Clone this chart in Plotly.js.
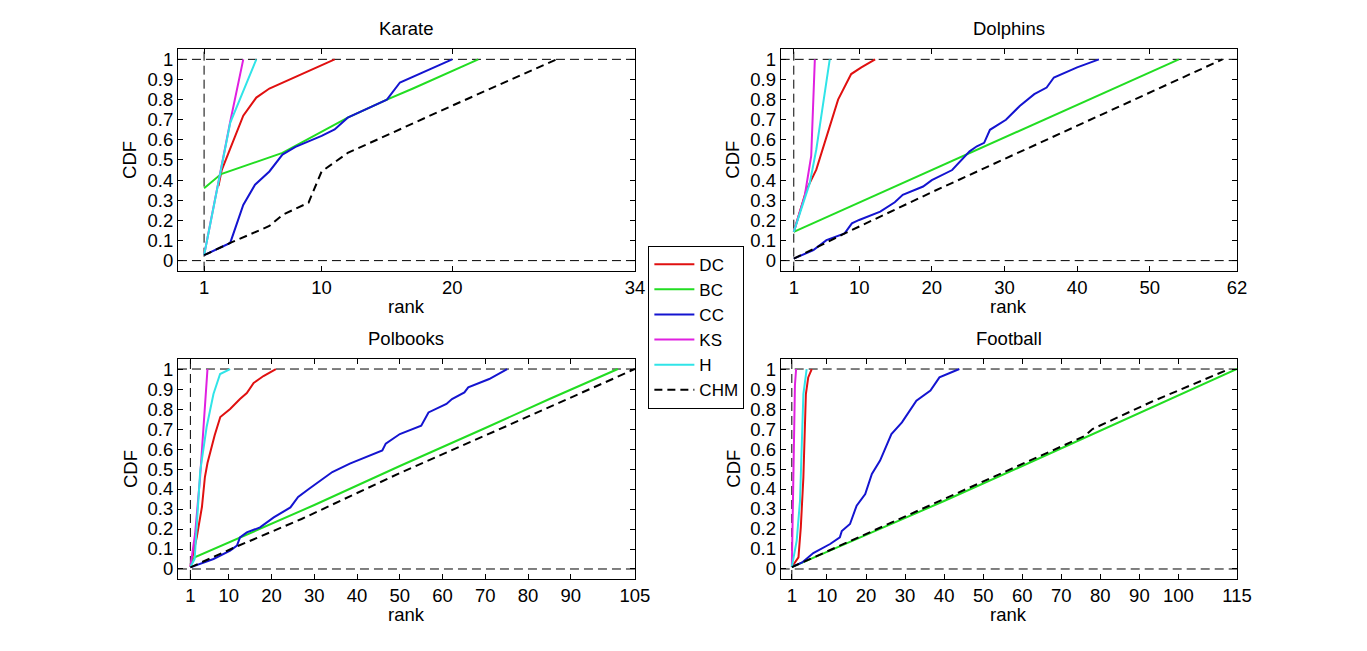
<!DOCTYPE html>
<html>
<head>
<meta charset="utf-8">
<script src="https://cdn.plot.ly/plotly-3.0.1.min.js"></script>
<style>
  html, body { margin: 0; padding: 0; background: #ffffff; }
  #plot { width: 1367px; height: 651px; }
</style>
</head>
<body>
<div id="plot"></div>
<script>
// rank / CDF pairs, one array per network and method
const KARATE_DC = [[2.1, 0.37], [2.35, 0.45], [4, 0.72], [5, 0.81], [6, 0.855], [11, 1]];
const KARATE_BC = [[1, 0.36], [2.3, 0.43], [7, 0.535], [12, 0.71], [15, 0.8], [17, 0.855], [22, 1]];
const KARATE_CC = [[1, 0.027], [3, 0.088], [4, 0.277], [4.9, 0.377], [6, 0.443], [7, 0.527], [8, 0.565],
  [10, 0.62], [11, 0.652], [12, 0.71], [15, 0.8], [16, 0.885], [20, 1]];
const KARATE_KS = [[1, 0.027], [3, 0.69], [4, 1]];
const KARATE_H = [[1, 0.027], [3, 0.685], [5, 1]];
const KARATE_CHM = [[1, 0.027], [3, 0.088], [6, 0.172], [7, 0.227], [9, 0.288], [10, 0.443], [12, 0.535],
  [20, 0.77], [28, 1]];

const DOLPHINS_DC = [[1, 0.143], [2.74, 0.352], [4.1, 0.452], [5.9, 0.66], [7.1, 0.8], [8.9, 0.927],
  [10.3, 0.96], [12.2, 1]];
const DOLPHINS_BC = [[1, 0.143], [20, 0.45], [38, 0.74], [54, 1]];
const DOLPHINS_CC = [[1, 0.01], [3.7, 0.052], [5.5, 0.102], [8, 0.135], [9, 0.185], [10, 0.202],
  [12.9, 0.243], [14.9, 0.29], [16, 0.327], [18.8, 0.368], [20, 0.4], [22.8, 0.45], [25.2, 0.543],
  [26.2, 0.568], [27.2, 0.585], [28, 0.65], [30.2, 0.7], [32.1, 0.768], [34.1, 0.827], [35.8, 0.86],
  [36.8, 0.91], [40, 0.96], [43, 1]];
const DOLPHINS_KS = [[1, 0.143], [2.5, 0.32], [3.4, 0.52], [3.65, 0.8], [3.9, 1]];
const DOLPHINS_H = [[1, 0.143], [3.2, 0.385], [4.1, 0.552], [4.8, 0.718], [5.95, 1]];
const DOLPHINS_CHM = [[1, 0.01], [8, 0.135], [20, 0.34], [40, 0.67], [60, 1]];

const POLBOOKS_DC = [[1, 0.01], [2.5, 0.16], [3.7, 0.31], [4.4, 0.46], [5, 0.53], [6.7, 0.67], [8, 0.76],
  [10.3, 0.8], [12.6, 0.85], [14.2, 0.88], [15.8, 0.93], [18.1, 0.965], [21, 1]];
const POLBOOKS_BC = [[1, 0.025], [2, 0.058], [30, 0.32], [50, 0.515], [70, 0.705], [85, 0.85], [101, 1]];
const POLBOOKS_CC = [[1, 0.008], [6.4, 0.05], [10.3, 0.092], [11.9, 0.117], [12.6, 0.158], [14.2, 0.183],
  [17.3, 0.208], [20.5, 0.258], [24.4, 0.308], [26.2, 0.36], [28.7, 0.4], [30, 0.42], [34.2, 0.485],
  [38.3, 0.527], [45.9, 0.593], [46.7, 0.627], [50, 0.675], [55, 0.717], [56.7, 0.783], [60.9, 0.825],
  [62.2, 0.85], [65.1, 0.883], [66, 0.908], [70.9, 0.95], [75.1, 1]];
const POLBOOKS_KS = [[1, 0.01], [2.1, 0.175], [3.27, 0.458], [4.05, 0.708], [5, 1]];
const POLBOOKS_H = [[1, 0.01], [2, 0.05], [3.3, 0.49], [4.8, 0.71], [6.4, 0.875], [7.95, 0.975], [10.3, 1]];
const POLBOOKS_CHM = [[1, 0.008], [11, 0.105], [27, 0.25], [50, 0.48], [75, 0.715], [105, 1]];

const FOOTBALL_DC = [[1, 0.01], [2.7, 0.058], [3.3, 0.208], [3.96, 0.458], [4.6, 0.875], [5.2, 0.958], [6.1, 1]];
const FOOTBALL_BC = [[1, 0.009], [20, 0.17], [40, 0.34], [60, 0.515], [80, 0.69], [100, 0.866], [115, 1]];
const FOOTBALL_CC = [[1, 0.01], [3.65, 0.033], [6.5, 0.08], [10.8, 0.125], [13.3, 0.158], [13.8, 0.19],
  [15.9, 0.225], [17.6, 0.317], [19.8, 0.375], [21.5, 0.475], [23.6, 0.542], [26.5, 0.675], [29.2, 0.733],
  [32.9, 0.842], [36.5, 0.892], [38.8, 0.958], [43.9, 1]];
const FOOTBALL_KS = [[1, 0.01], [1.2, 0.3], [1.5, 0.7], [1.8, 0.92], [2.1, 1]];
const FOOTBALL_H = [[1, 0.01], [2.25, 0.142], [3.1, 0.342], [3.5, 0.592], [3.96, 0.875], [4.8, 1]];
const FOOTBALL_CHM = [[1, 0.009], [20, 0.175], [40, 0.35], [60, 0.525], [76, 0.665], [78, 0.7], [93, 0.835], [113, 1]];

const METHODS = ["DC", "BC", "CC", "KS", "H", "CHM"];
const NETWORKS = ["Karate", "Dolphins", "Polbooks", "Football"];
const CURVES = [
  [KARATE_DC, KARATE_BC, KARATE_CC, KARATE_KS, KARATE_H, KARATE_CHM],
  [DOLPHINS_DC, DOLPHINS_BC, DOLPHINS_CC, DOLPHINS_KS, DOLPHINS_H, DOLPHINS_CHM],
  [POLBOOKS_DC, POLBOOKS_BC, POLBOOKS_CC, POLBOOKS_KS, POLBOOKS_H, POLBOOKS_CHM],
  [FOOTBALL_DC, FOOTBALL_BC, FOOTBALL_CC, FOOTBALL_KS, FOOTBALL_H, FOOTBALL_CHM],
];

const X_TICKS = [
  [1, 10, 20, 34],
  [1, 10, 20, 30, 40, 50, 62],
  [1, 10, 20, 30, 40, 50, 60, 70, 80, 90, 105],
  [1, 10, 20, 30, 40, 50, 60, 70, 80, 90, 100, 115],
];
const Y_TICKS = [0, 0.1, 0.2, 0.3, 0.4, 0.5, 0.6, 0.7, 0.8, 0.9, 1];
const REF_RANK = 1;          // vertical dashed guide
const REF_CDF = [0, 1];      // horizontal dashed guides

// styling
const FONT = "Liberation Sans, Arial, Helvetica, sans-serif";
const FS = 18.5;
const STYLE = {
  DC: { color: "#e01010" },
  BC: { color: "#22dd22" },
  CC: { color: "#1414d0" },
  KS: { color: "#e020e0" },
  H: { color: "#30e4e8" },
  CHM: { color: "#000000", dash: "8px,5px" },
};
const X_RANGES = [[-1, 34], [-0.8, 62], [-1.9, 105], [-1.85, 115]];
const X_DOMAINS = [[0.1302, 0.4645], [0.5711, 0.9049], [0.1302, 0.4645], [0.5711, 0.9049]];
const Y_DOMAINS = [[0.5842, 0.9243], [0.5842, 0.9243], [0.1106, 0.4485], [0.1106, 0.4485]];

function suffix(i) {
  return i === 0 ? "" : String(i + 1);
}

function buildTraces() {
  const traces = [];
  CURVES.forEach((set, i) => {
    set.forEach((pts, m) => {
      const name = METHODS[m];
      traces.push({
        type: "scatter",
        mode: "lines",
        name,
        legendgroup: name,
        showlegend: i === 0,
        x: pts.map((p) => p[0]),
        y: pts.map((p) => p[1]),
        xaxis: "x" + suffix(i),
        yaxis: "y" + suffix(i),
        line: { color: STYLE[name].color, width: 2, dash: STYLE[name].dash || "solid" },
        hoverinfo: "skip",
      });
    });
  });
  return traces;
}

function axisCommon() {
  return {
    ticks: "inside",
    ticklen: 5,
    tickwidth: 1,
    tickcolor: "#000000",
    showline: true,
    mirror: "ticks",
    linecolor: "#000000",
    linewidth: 1,
    showgrid: false,
    zeroline: false,
    tickfont: { family: FONT, size: FS, color: "#000000" },
    automargin: false,
  };
}

function buildLayout() {
  const layout = {
    width: 1367,
    height: 651,
    paper_bgcolor: "#ffffff",
    plot_bgcolor: "#ffffff",
    margin: { l: 0, r: 0, t: 0, b: 0 },
    font: { family: FONT, size: FS, color: "#000000" },
    showlegend: true,
    legend: {
      x: 0.4743,
      y: 0.6226,
      xanchor: "left",
      yanchor: "top",
      bgcolor: "#ffffff",
      bordercolor: "#000000",
      borderwidth: 1,
      itemwidth: 40,
      font: { family: FONT, size: 17, color: "#000000" },
      tracegroupgap: 0,
    },
    shapes: [],
    annotations: [],
  };

  const dashed = { color: "#000000", width: 1, dash: "9px,5px" };

  NETWORKS.forEach((net, i) => {
    const s = suffix(i);
    layout["xaxis" + s] = Object.assign(axisCommon(), {
      domain: X_DOMAINS[i],
      range: X_RANGES[i],
      tickvals: X_TICKS[i],
      anchor: "y" + s,
    });
    layout["yaxis" + s] = Object.assign(axisCommon(), {
      domain: Y_DOMAINS[i],
      range: [-0.05, 1.05],
      tickvals: Y_TICKS,
      anchor: "x" + s,
    });

    layout.shapes.push({
      type: "line", layer: "below", xref: "x" + s, yref: "y" + s + " domain",
      x0: REF_RANK, x1: REF_RANK, y0: 0, y1: 1, line: dashed,
    });
    REF_CDF.forEach((v) => {
      layout.shapes.push({
        type: "line", layer: "below", xref: "x" + s + " domain", yref: "y" + s,
        x0: 0, x1: 1, y0: v, y1: v, line: dashed,
      });
    });

    // subplot title and axis labels
    layout.annotations.push({
      text: net, showarrow: false, font: { family: FONT, size: FS, color: "#000000" },
      xref: "x" + s + " domain", yref: "y" + s + " domain", x: 0.5, y: 1,
      xanchor: "center", yanchor: "middle", yshift: 21,
    });
    layout.annotations.push({
      text: "rank", showarrow: false, font: { family: FONT, size: FS, color: "#000000" },
      xref: "x" + s + " domain", yref: "y" + s + " domain", x: 0.5, y: 0,
      xanchor: "center", yanchor: "middle", yshift: -36,
    });
    layout.annotations.push({
      text: "CDF", showarrow: false, textangle: -90, font: { family: FONT, size: FS, color: "#000000" },
      xref: "x" + s + " domain", yref: "y" + s + " domain", x: 0, y: 0.5,
      xanchor: "center", yanchor: "middle", xshift: -48,
    });
  });

  return layout;
}

Plotly.newPlot("plot", buildTraces(), buildLayout(), { displayModeBar: false, responsive: false });
</script>
</body>
</html>
